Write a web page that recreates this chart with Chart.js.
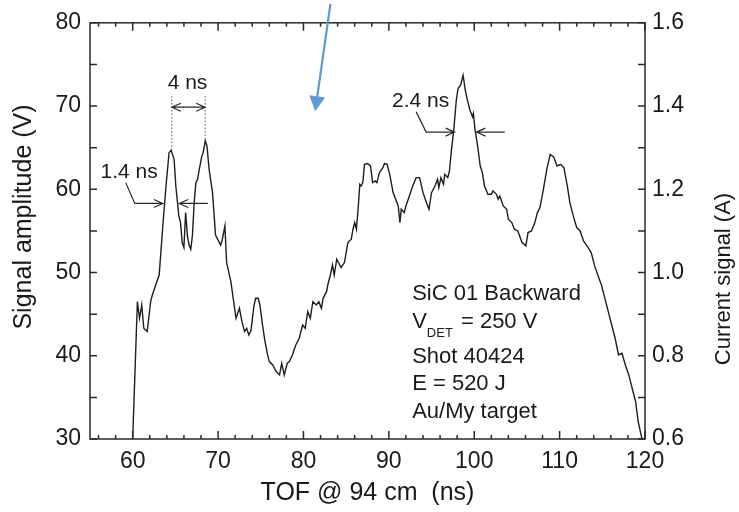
<!DOCTYPE html>
<html><head><meta charset="utf-8">
<script src="https://cdn.jsdelivr.net/npm/chart.js@4.4.1/dist/chart.umd.min.js"></script>
<style>html,body{margin:0;padding:0;background:#fff;}</style>
</head><body>
<canvas id="c" width="739" height="512"></canvas>
<script>
// ---- data (TOF in ns, signal amplitude in V) ----
const tofNs = [60.0,60.55,60.8,61.06,61.3,61.7,62.1,62.3,62.7,63.1,63.5,63.9,64.26,64.5,64.85,65.05,65.25,65.4,65.6,65.8,66.0,66.2,66.4,66.6,66.8,67.0,67.2,67.4,67.6,67.8,68.1,68.25,68.5,68.7,68.95,69.35,69.7,70.3,70.5,70.8,71.0,71.5,72.1,72.5,72.8,73.1,73.35,73.6,73.85,74.2,74.4,74.7,74.9,75.2,75.5,75.8,76.0,76.4,76.8,77.2,77.45,77.75,78.1,78.35,78.7,79.1,79.5,79.9,80.2,80.5,80.8,81.1,81.5,81.8,82.1,82.3,82.7,82.85,83.15,83.4,83.6,83.9,84.2,84.4,84.8,85.0,85.2,85.6,85.8,86.0,86.2,86.4,86.6,86.75,86.95,87.15,87.5,87.85,88.1,88.4,88.6,88.9,89.3,89.5,89.8,90.1,90.5,91.1,91.3,91.45,91.8,92.0,92.4,92.8,93.2,93.6,94.0,94.4,94.7,95.0,95.4,95.7,95.85,96.1,96.4,96.55,96.9,97.1,97.3,97.6,97.9,98.1,98.4,98.7,98.95,99.2,99.5,99.8,99.9,100.1,100.4,100.7,100.95,101.2,101.6,102.0,102.2,102.6,102.8,103.0,103.4,103.8,104.0,104.4,104.7,105.1,105.6,106.05,106.3,106.7,107.1,107.4,107.7,108.1,108.5,108.9,109.3,109.7,110.1,110.5,110.9,111.2,111.6,112.0,112.4,112.8,113.2,113.45,113.7,114.1,114.5,114.9,115.3,115.7,116.1,116.5,116.9,117.3,117.7,118.1,118.5,118.9,119.2,119.6,119.7];
const signalV = [30.0,46.5,44.5,46.1,43.3,42.9,46.5,47.3,48.5,49.7,55.2,60.4,64.4,64.7,63.6,60.4,58.4,56.8,56.0,53.6,53.0,57.2,54.5,53.3,52.8,54.5,58.4,60.8,61.2,62.4,64.0,64.4,65.8,65.2,62.4,59.6,54.5,53.3,54.0,55.6,51.2,48.9,44.5,45.7,44.1,42.9,43.3,42.5,43.0,46.0,46.9,46.9,46.1,43.7,41.7,40.1,39.3,38.9,38.1,37.7,39.1,37.7,39.1,39.3,40.1,41.3,42.1,43.7,43.3,45.3,44.5,46.5,46.1,46.5,45.7,46.9,47.7,48.5,49.7,50.9,49.7,51.6,51.0,50.6,51.2,52.4,53.6,54.0,55.2,56.0,55.2,57.6,60.6,60.4,60.8,63.0,63.1,62.8,60.8,61.0,60.8,62.0,62.6,63.1,63.0,61.8,59.6,58.0,56.0,57.6,57.2,58.0,59.2,60.4,61.4,61.4,59.6,58.4,57.6,59.6,60.4,61.2,60.2,61.4,60.6,61.8,61.4,62.2,64.4,67.1,70.7,72.1,72.5,73.7,71.9,70.7,69.5,68.7,69.1,67.1,65.2,62.8,62.0,60.4,59.4,59.4,59.8,59.4,58.8,59.2,58.0,57.6,56.4,56.0,55.2,55.0,53.6,53.2,54.8,55.0,56.0,57.2,57.8,60.0,62.4,64.2,63.9,62.8,63.0,62.6,60.4,58.4,56.8,55.4,55.0,53.8,53.2,52.8,52.4,50.8,49.6,48.5,46.9,45.3,43.7,42.1,40.1,40.3,38.9,37.7,36.1,34.5,32.1,30.2,30.0];

// ---- axis ticks ----
const xTickValues = [60,70,80,90,100,110,120];
const xMinorTicks = [56,58,62,64,66,68,72,74,76,78,82,84,86,88,92,94,96,98,102,104,106,108,112,114,116,118];
const yLeftTicks = [30,40,50,60,70,80];
const yLeftMinor = [35,45,55,65,75];
const yRightTicks = [0.6,0.8,1.0,1.2,1.4,1.6];
const yRightMinor = [0.7,0.9,1.1,1.3,1.5];

// ---- labels / annotations (in data units) ----
const xTitle = 'TOF @ 94 cm  (ns)';
const yLeftTitle = 'Signal amplitude (V)';
const yRightTitle = 'Current signal (A)';
const infoLines = ['SiC 01 Backward', 'V', 'Shot 40424', 'E = 520 J', 'Au/My target'];

const TXT = '#1a1a1a';
const FONT = "'Liberation Sans', Arial, Helvetica, sans-serif";
const TICKFONT = "'Liberation Sans Narrow', 'Arial Narrow', 'Liberation Sans', Arial, sans-serif";

function arrowHead(ctx, x1, y1, x2, y2, len, half) {
  const ang = Math.atan2(y2 - y1, x2 - x1);
  ctx.moveTo(x2 - len * Math.cos(ang) + half * Math.sin(ang), y2 - len * Math.sin(ang) - half * Math.cos(ang));
  ctx.lineTo(x2, y2);
  ctx.lineTo(x2 - len * Math.cos(ang) - half * Math.sin(ang), y2 - len * Math.sin(ang) + half * Math.cos(ang));
}

const overlay = {
  id: 'overlay',
  afterDraw(chart) {
    const ctx = chart.ctx, xs = chart.scales.x, ys = chart.scales.y, y2 = chart.scales.y2, a = chart.chartArea;
    const X = v => xs.getPixelForValue(v), Y = v => ys.getPixelForValue(v);
    ctx.save();
    // frame
    ctx.strokeStyle = '#2a2a2a'; ctx.lineWidth = 1.5;
    ctx.strokeRect(a.left, a.top, a.right - a.left, a.bottom - a.top);
    // ticks (inward)
    ctx.beginPath();
    xTickValues.forEach(v => { const p = X(v); ctx.moveTo(p, a.bottom); ctx.lineTo(p, a.bottom - 8); ctx.moveTo(p, a.top); ctx.lineTo(p, a.top + 8); });
    xMinorTicks.forEach(v => { const p = X(v); ctx.moveTo(p, a.bottom); ctx.lineTo(p, a.bottom - 4); ctx.moveTo(p, a.top); ctx.lineTo(p, a.top + 4); });
    yLeftTicks.concat(yLeftMinor).forEach(v => { const p = Y(v); ctx.moveTo(a.left, p); ctx.lineTo(a.left + 7, p); });
    yRightTicks.concat(yRightMinor).forEach(v => { const p = y2.getPixelForValue(v); ctx.moveTo(a.right, p); ctx.lineTo(a.right - 7, p); });
    ctx.stroke();

    // y titles (both read bottom-to-top)
    ctx.fillStyle = TXT; ctx.textAlign = 'center'; ctx.textBaseline = 'middle';
    ctx.save(); ctx.translate(24, 217); ctx.rotate(-Math.PI / 2);
    ctx.font = '25px ' + FONT; ctx.fillText(yLeftTitle, 0, 0); ctx.restore();
    ctx.save(); ctx.translate(724, 279); ctx.rotate(-Math.PI / 2);
    ctx.font = '22px ' + FONT; ctx.fillText(yRightTitle, 0, 0); ctx.restore();

    // annotations
    ctx.strokeStyle = '#2a2a2a'; ctx.lineWidth = 1.2;
    ctx.font = '21px ' + FONT; ctx.textAlign = 'center'; ctx.textBaseline = 'middle';
    ctx.fillText('4 ns', X(66.42), Y(72.7));
    ctx.fillText('1.4 ns', X(59.58), Y(62.1));
    ctx.fillText('2.4 ns', X(93.72), Y(70.63));
    ctx.beginPath();
    // 4 ns double arrow
    ctx.moveTo(X(64.58), Y(69.86)); ctx.lineTo(X(68.49), Y(69.86));
    arrowHead(ctx, X(68.49), Y(69.86), X(64.58), Y(69.86), 9, 4);
    arrowHead(ctx, X(64.58), Y(69.86), X(68.49), Y(69.86), 9, 4);
    // 1.4 ns leader + arrows
    ctx.moveTo(X(59.18), Y(60.8)); ctx.lineTo(X(60.24), Y(58.3)); ctx.lineTo(X(63.53), Y(58.3));
    arrowHead(ctx, X(60.24), Y(58.3), X(63.53), Y(58.3), 9, 4);
    ctx.moveTo(X(68.8), Y(58.3)); ctx.lineTo(X(65.45), Y(58.3));
    arrowHead(ctx, X(68.8), Y(58.3), X(65.45), Y(58.3), 9, 4);
    // 2.4 ns leader + arrows
    ctx.moveTo(X(93.2), Y(69.3)); ctx.lineTo(X(94.37), Y(66.87)); ctx.lineTo(X(97.7), Y(66.87));
    arrowHead(ctx, X(94.37), Y(66.87), X(97.7), Y(66.87), 9, 4);
    ctx.moveTo(X(103.58), Y(66.87)); ctx.lineTo(X(100.26), Y(66.87));
    arrowHead(ctx, X(103.58), Y(66.87), X(100.26), Y(66.87), 9, 4);
    ctx.stroke();
    // dotted guides
    ctx.save(); ctx.setLineDash([1.5, 2]); ctx.lineWidth = 1; ctx.strokeStyle = '#555';
    ctx.beginPath();
    ctx.moveTo(X(64.58), Y(71.2)); ctx.lineTo(X(64.58), Y(64.8));
    ctx.moveTo(X(68.49), Y(71.2)); ctx.lineTo(X(68.49), Y(65.8));
    ctx.stroke(); ctx.restore();

    // info text block
    ctx.textAlign = 'left'; ctx.textBaseline = 'alphabetic'; ctx.font = '22px ' + FONT;
    const tx = X(92.73);
    ctx.fillText(infoLines[0], tx, Y(46.67));
    ctx.fillText(infoLines[1], tx, Y(43.37));
    const vw = ctx.measureText(infoLines[1]).width;
    ctx.font = '13px ' + FONT; ctx.fillText('DET', tx + vw, Y(43.37) + 9);
    const dw = ctx.measureText('DET').width;
    ctx.font = '22px ' + FONT; ctx.fillText(' = 250 V', tx + vw + dw + 2, Y(43.37));
    ctx.fillText(infoLines[2], tx, Y(39.1));
    ctx.fillText(infoLines[3], tx, Y(35.93));
    ctx.fillText(infoLines[4], tx, Y(32.54));

    // blue pointer arrow
    ctx.strokeStyle = '#5b9bd5'; ctx.fillStyle = '#5b9bd5'; ctx.lineWidth = 2.2;
    const bx1 = X(83.16), by1 = Y(82.27), bx2 = X(81.37), by2 = Y(69.38);
    const ang = Math.atan2(by2 - by1, bx2 - bx1);
    ctx.beginPath(); ctx.moveTo(bx1, by1); ctx.lineTo(bx2 - 12 * Math.cos(ang), by2 - 12 * Math.sin(ang)); ctx.stroke();
    ctx.beginPath(); arrowHead(ctx, bx1, by1, bx2, by2, 15, 8); ctx.closePath(); ctx.fill();
    ctx.restore();
  }
};

new Chart(document.getElementById('c'), {
  type: 'line',
  data: {
    datasets: [{
      data: tofNs.map((t, i) => ({ x: t, y: signalV[i] })),
      borderColor: '#1e1e1e', borderWidth: 1.4, pointRadius: 0, tension: 0, fill: false
    }]
  },
  options: {
    responsive: false, animation: false, devicePixelRatio: 1,
    layout: { padding: { top: 19, left: 0, right: 0, bottom: 0 } },
    plugins: { legend: { display: false }, tooltip: { enabled: false } },
    scales: {
      x: {
        type: 'linear', position: 'bottom', min: 55, max: 120,
        afterBuildTicks: s => { s.ticks = xTickValues.map(v => ({ value: v })); },
        afterFit: s => { s.height = 73; },
        grid: { display: false, drawTicks: false }, border: { display: false },
        ticks: { padding: 9, color: TXT, font: { family: TICKFONT, size: 23 }, maxRotation: 0, autoSkip: false },
        title: { display: true, text: xTitle, color: TXT, font: { family: FONT, size: 25 }, padding: { top: 0, bottom: 4 } }
      },
      y: {
        type: 'linear', position: 'left', min: 30, max: 80,
        afterBuildTicks: s => { s.ticks = yLeftTicks.map(v => ({ value: v })); },
        afterFit: s => { s.width = 90; },
        grid: { display: false, drawTicks: false }, border: { display: false },
        ticks: { padding: 9, color: TXT, font: { family: TICKFONT, size: 23 } }
      },
      y2: {
        type: 'linear', position: 'right', min: 0.6, max: 1.6,
        afterBuildTicks: s => { s.ticks = yRightTicks.map(v => ({ value: v })); },
        afterFit: s => { s.width = 94; },
        grid: { display: false, drawTicks: false }, border: { display: false },
        ticks: { padding: 7, color: TXT, font: { family: TICKFONT, size: 23 }, callback: v => Number(v).toFixed(1) }
      }
    }
  },
  plugins: [overlay]
});
</script>
</body></html>
